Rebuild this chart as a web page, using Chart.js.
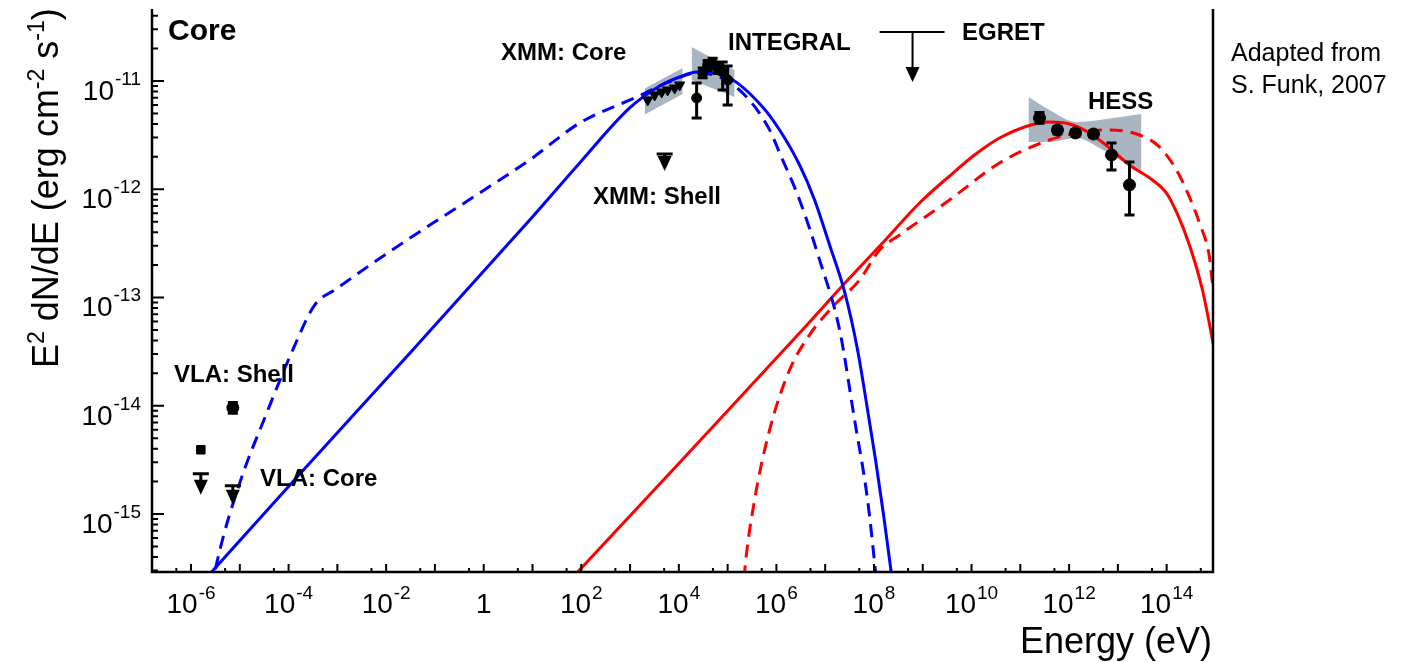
<!DOCTYPE html>
<html>
<head>
<meta charset="utf-8">
<title>Core SED</title>
<script src="https://cdn.jsdelivr.net/npm/chart.js@4.4.1/dist/chart.umd.min.js"></script>
<style>
  html, body { margin: 0; padding: 0; background: #fff; }
  canvas { display: block; }
</style>
</head>
<body>
<canvas id="sedChart" width="1401" height="662"></canvas>
<script>
// values are log10(E / eV) and log10(E^2 dN/dE / erg cm^-2 s^-1)
const X_MIN = -6.8, X_MAX = 14.95;
const Y_MIN = -15.536, Y_MAX = -10.335;
const xLabelExps = [-6, -4, -2, 0, 2, 4, 6, 8, 10, 12, 14];
const yLabelExps = [-15, -14, -13, -12, -11];

// model curves
const blueSolidLogE = [-6.0, -5.574, -3.77, -1.455, 0.943, 1.967, 2.992, 3.607, 4.016, 4.365, 5.041, 5.717, 6.066, 6.475, 6.783, 7.090, 7.398, 7.664, 7.869, 8.033, 8.197, 8.320, 8.402];
const blueSolidLogF = [-15.748, -15.534, -14.63, -13.485, -12.284, -11.757, -11.249, -11.046, -10.963, -10.917, -10.972, -11.240, -11.453, -11.776, -12.099, -12.515, -12.949, -13.485, -14.039, -14.501, -15.009, -15.425, -15.702];

const blueDashLogE = [-5.574, -5.471, -5.0, -4.447, -3.914, -3.463, -3.053, -1.721, -0.082, 0.943, 1.967, 3.135, 3.75, 4.365, 4.836, 5.389, 5.861, 6.066, 6.475, 6.885, 7.295, 7.602, 7.869, 8.033, 8.094];
const blueDashLogF = [-15.70, -15.451, -14.712, -14.066, -13.484, -13.068, -12.93, -12.514, -12.034, -11.729, -11.388, -11.148, -11.018, -10.926, -10.963, -11.148, -11.452, -11.665, -12.099, -12.653, -13.299, -14.13, -14.869, -15.534, -15.79];

const redSolidLogE = [1.557, 1.926, 4.426, 6.475, 7.5, 8.176, 8.934, 9.549, 10.061, 10.574, 11.086, 11.598, 12.008, 12.418, 12.828, 13.238, 13.709, 13.996, 14.201, 14.467, 14.734, 14.939, 15.082];
const redSolidLogF = [-15.711, -15.536, -14.326, -13.328, -12.82, -12.497, -12.127, -11.878, -11.684, -11.527, -11.425, -11.379, -11.397, -11.48, -11.619, -11.776, -11.915, -12.035, -12.21, -12.515, -12.931, -13.393, -13.762];

const redDashLogE = [5.307, 5.348, 5.553, 5.861, 6.270, 6.680, 7.193, 7.705, 8.115, 8.525, 9.549, 10.574, 11.598, 12.275, 12.828, 13.443, 13.852, 14.201, 14.467, 14.672, 14.877, 14.939, 15.0];
const redDashLogF = [-15.79, -15.534, -14.869, -14.223, -13.669, -13.345, -13.068, -12.838, -12.561, -12.422, -12.099, -11.757, -11.545, -11.471, -11.452, -11.499, -11.609, -11.822, -12.071, -12.311, -12.625, -12.865, -12.95];

// butterflies (upper / lower edges)
const xmmBowLogE = [3.299, 4.078];
const xmmBowHi = [-11.07, -10.88];
const xmmBowLo = [-11.31, -11.12];
const integralBowLogE = [4.262, 5.143];
const integralBowHi = [-10.686, -10.898];
const integralBowLo = [-10.991, -11.148];
const hessBowLogE = [11.168, 11.598, 12.152, 12.623, 13.484];
const hessBowHi = [-11.148, -11.268, -11.379, -11.36, -11.305];
const hessBowLo = [-11.563, -11.563, -11.526, -11.619, -11.859];

// measurements
const vlaShellLogE = [-5.143];
const vlaShellLogF = [-14.019];
const vlaShellErrLo = [-14.07];
const vlaShellErrHi = [-13.97];
const vlaCoreLogE = [-5.799];
const vlaCoreLogF = [-14.407];
const xmmCoreLogE = [3.361, 3.504, 3.648, 3.770, 3.914, 4.016];
const xmmCoreLogF = [-11.175, -11.129, -11.102, -11.083, -11.065, -11.037];
const integralLogE = [4.365, 4.488, 4.590, 4.693, 4.795, 4.898, 5.0];
const integralLogF = [-11.157, -10.926, -10.852, -10.834, -10.88, -10.917, -10.991];
const integralErrLo = [-11.342, -10.97, -10.9, -10.88, -10.93, -11.083, -11.222];
const integralErrHi = [-11.018, -10.88, -10.81, -10.79, -10.83, -10.825, -10.861];
const hessLogE = [11.393, 11.762, 12.131, 12.5, 12.869, 13.238];
const hessLogF = [-11.342, -11.453, -11.48, -11.49, -11.683, -11.96];
const hessErrLo = [-11.39, -11.49, -11.51, -11.52, -11.822, -12.237];
const hessErrHi = [-11.29, -11.42, -11.45, -11.46, -11.572, -11.748];

// upper limits (VLA core x2, XMM shell)
const ulLogE = [-5.799, -5.143, 3.709];
const ulLogF = [-14.629, -14.74, -11.674];
const ulTipLogF = [-14.823, -14.915, -11.831];
// EGRET band limit
const egretLogE = [8.115, 9.447];
const egretArrowLogE = 8.791;
const egretLogF = -10.548;
const egretTipLogF = -11.009;

const FONT = '"Liberation Sans", Arial, Helvetica, sans-serif';
const BOW_COLOR = '#a9b5c1';

const textLabels = [
  { t: 'Core', x: 168, y: 40, f: 'bold 30px' },
  { t: 'XMM: Core', x: 501, y: 60, f: 'bold 24px' },
  { t: 'INTEGRAL', x: 728, y: 50, f: 'bold 24px' },
  { t: 'EGRET', x: 962, y: 40, f: 'bold 24px' },
  { t: 'HESS', x: 1088, y: 109, f: 'bold 24px' },
  { t: 'XMM: Shell', x: 593, y: 204, f: 'bold 24px' },
  { t: 'VLA: Shell', x: 174, y: 382, f: 'bold 24px' },
  { t: 'VLA: Core', x: 260, y: 486, f: 'bold 24px' },
  { t: 'Adapted from', x: 1231, y: 61, f: '25px' },
  { t: 'S. Funk, 2007', x: 1231, y: 93, f: '25px' }
];

function pts(es, fs) {
  return es.map((e, i) => ({ x: 10 ** e, y: 10 ** fs[i] }));
}

function curve(es, fs, color, dash) {
  return {
    data: pts(es, fs), borderColor: color, borderWidth: 3, borderDash: dash || [],
    pointRadius: 0, fill: false, cubicInterpolationMode: 'monotone', order: 2
  };
}

function bow(es, hi, lo) {
  return [
    { data: pts(es, hi), borderColor: 'rgba(0,0,0,0)', borderWidth: 0, pointRadius: 0,
      backgroundColor: BOW_COLOR, fill: '+1', order: 3, cubicInterpolationMode: 'monotone' },
    { data: pts(es, lo), borderColor: 'rgba(0,0,0,0)', borderWidth: 0, pointRadius: 0,
      fill: false, order: 3, cubicInterpolationMode: 'monotone' }
  ];
}

function markers(es, fs, style, radius, rotation) {
  return {
    data: pts(es, fs), showLine: false, pointStyle: style, pointRadius: radius,
    pointRotation: rotation || 0, backgroundColor: '#000', borderColor: '#000',
    borderWidth: 1, order: 1
  };
}

// 10^n label with a raised exponent
function drawPow(ctx, exp, x, baseY, supY, align) {
  ctx.textAlign = 'left';
  ctx.textBaseline = 'alphabetic';
  if (exp === 0) {
    ctx.font = '28px ' + FONT;
    const w = ctx.measureText('1').width;
    ctx.fillText('1', align === 'center' ? x - w / 2 : x - w, baseY);
    return;
  }
  ctx.font = '28px ' + FONT;
  const wb = ctx.measureText('10').width;
  ctx.font = '19px ' + FONT;
  const ws = ctx.measureText(String(exp)).width;
  const total = wb + ws + 1;
  const left = align === 'center' ? x - total / 2 : x - total;
  ctx.font = '28px ' + FONT;
  ctx.fillText('10', left, baseY);
  ctx.font = '19px ' + FONT;
  ctx.fillText(String(exp), left + wb + 1, supY);
}

function arrowHead(ctx, x, yTip) {
  ctx.beginPath();
  ctx.moveTo(x - 7, yTip - 15);
  ctx.lineTo(x + 7, yTip - 15);
  ctx.lineTo(x, yTip);
  ctx.closePath();
  ctx.fill();
}

const decorPlugin = {
  id: 'decor',
  afterDatasetsDraw(chart) {
    const ctx = chart.ctx;
    const px = v => chart.scales.x.getPixelForValue(10 ** v);
    const py = v => chart.scales.y.getPixelForValue(10 ** v);
    ctx.save();
    ctx.strokeStyle = '#000';
    ctx.fillStyle = '#000';
    ctx.lineWidth = 3;

    // error bars
    const errSets = [
      [integralLogE, integralErrLo, integralErrHi],
      [hessLogE, hessErrLo, hessErrHi],
      [vlaShellLogE, vlaShellErrLo, vlaShellErrHi]
    ];
    errSets.forEach(([es, los, his]) => {
      es.forEach((e, i) => {
        const x = px(e), y1 = py(los[i]), y2 = py(his[i]);
        ctx.beginPath();
        ctx.moveTo(x, y1); ctx.lineTo(x, y2);
        ctx.moveTo(x - 5, y1); ctx.lineTo(x + 5, y1);
        ctx.moveTo(x - 5, y2); ctx.lineTo(x + 5, y2);
        ctx.stroke();
      });
    });

    // upper limits
    ulLogE.forEach((e, i) => {
      const x = px(e), yb = py(ulLogF[i]), yt = py(ulTipLogF[i]);
      ctx.beginPath();
      ctx.moveTo(x - 8, yb); ctx.lineTo(x + 8, yb);
      ctx.moveTo(x, yb); ctx.lineTo(x, yt - 14);
      ctx.stroke();
      arrowHead(ctx, x, yt);
    });

    // EGRET
    ctx.lineWidth = 2;
    const ey = py(egretLogF), ex = px(egretArrowLogE), et = py(egretTipLogF);
    ctx.beginPath();
    ctx.moveTo(px(egretLogE[0]), ey); ctx.lineTo(px(egretLogE[1]), ey);
    ctx.moveTo(ex, ey); ctx.lineTo(ex, et - 14);
    ctx.stroke();
    arrowHead(ctx, ex, et);
    ctx.restore();
  },
  afterDraw(chart) {
    const ctx = chart.ctx;
    const a = chart.chartArea;
    const xs = chart.scales.x, ys = chart.scales.y;
    ctx.save();
    ctx.strokeStyle = '#000';
    ctx.fillStyle = '#000';

    // frame: left, bottom, right
    ctx.lineWidth = 2.5;
    ctx.beginPath();
    ctx.moveTo(a.left, a.top); ctx.lineTo(a.left, a.bottom);
    ctx.lineTo(a.right, a.bottom); ctx.lineTo(a.right, a.top);
    ctx.stroke();

    // x ticks (inside)
    ctx.lineWidth = 2;
    ctx.beginPath();
    for (let n = Math.ceil(X_MIN) - 1; n <= Math.floor(X_MAX); n++) {
      const xMaj = xs.getPixelForValue(10 ** n);
      const xMin = xs.getPixelForValue(5 * 10 ** n);
      if (xMaj >= a.left && xMaj <= a.right) { ctx.moveTo(xMaj, a.bottom); ctx.lineTo(xMaj, a.bottom - 8); }
      if (xMin >= a.left && xMin <= a.right) { ctx.moveTo(xMin, a.bottom); ctx.lineTo(xMin, a.bottom - 4); }
    }
    // y ticks (inside)
    for (let n = Math.floor(Y_MIN); n <= Math.ceil(Y_MAX); n++) {
      for (let m = 1; m <= 9; m++) {
        const y = ys.getPixelForValue(m * 10 ** n);
        if (y < a.top || y > a.bottom) continue;
        ctx.moveTo(a.left, y);
        ctx.lineTo(a.left + (m === 1 ? 12 : 6), y);
      }
    }
    ctx.stroke();

    // tick labels
    xLabelExps.forEach(n => {
      drawPow(ctx, n, xs.getPixelForValue(10 ** n), 613, 599, 'center');
    });
    yLabelExps.forEach(n => {
      const y = ys.getPixelForValue(10 ** n);
      drawPow(ctx, n, 141, y + 19, y + 4, 'right');
    });

    // axis titles
    ctx.textBaseline = 'alphabetic';
    ctx.font = '36px ' + FONT;
    ctx.textAlign = 'right';
    ctx.fillText('Energy (eV)', 1212, 653);

    ctx.save();
    ctx.translate(58, 368);
    ctx.rotate(-Math.PI / 2);
    ctx.textAlign = 'left';
    const parts = [
      ['E', 0, 36], ['2', -14, 23], [' dN/dE (erg cm', 0, 36], ['-2', -14, 23],
      [' s', 0, 36], ['-1', -14, 23], [')', 0, 36]
    ];
    let cx = 0;
    parts.forEach(([t, dy, size]) => {
      ctx.font = size + 'px ' + FONT;
      ctx.fillText(t, cx, dy);
      cx += ctx.measureText(t).width;
    });
    ctx.restore();

    // annotations
    textLabels.forEach(l => {
      ctx.font = l.f + ' ' + FONT;
      ctx.textAlign = 'left';
      ctx.fillText(l.t, l.x, l.y);
    });
    ctx.restore();
  }
};

const datasets = [
  ...bow(xmmBowLogE, xmmBowHi, xmmBowLo),
  ...bow(integralBowLogE, integralBowHi, integralBowLo),
  ...bow(hessBowLogE, hessBowHi, hessBowLo),
  curve(blueSolidLogE, blueSolidLogF, '#0000ff'),
  curve(blueDashLogE, blueDashLogF, '#0000ff', [13, 8]),
  curve(redSolidLogE, redSolidLogF, '#ff0000'),
  curve(redDashLogE, redDashLogF, '#ff0000', [13, 8]),
  markers(vlaShellLogE, vlaShellLogF, 'circle', 6),
  markers(vlaCoreLogE, vlaCoreLogF, 'rect', 6),
  markers(xmmCoreLogE, xmmCoreLogF, 'triangle', 6, 180),
  markers(integralLogE, integralLogF, 'circle', 5),
  markers(hessLogE, hessLogF, 'circle', 6)
];

new Chart(document.getElementById('sedChart'), {
  type: 'line',
  data: { datasets },
  options: {
    responsive: false,
    animation: false,
    devicePixelRatio: 1,
    events: [],
    layout: { padding: { left: 0, right: 188, top: 9, bottom: 0 } },
    plugins: {
      legend: { display: false },
      tooltip: { enabled: false },
      filler: { drawTime: 'beforeDatasetsDraw' }
    },
    scales: {
      x: {
        type: 'logarithmic', min: 10 ** X_MIN, max: 10 ** X_MAX,
        ticks: { display: false }, grid: { display: false }, border: { display: false },
        afterFit: s => { s.height = 90; }
      },
      y: {
        type: 'logarithmic', min: 10 ** Y_MIN, max: 10 ** Y_MAX,
        ticks: { display: false }, grid: { display: false }, border: { display: false },
        afterFit: s => { s.width = 152; }
      }
    }
  },
  plugins: [decorPlugin]
});
</script>
</body>
</html>
